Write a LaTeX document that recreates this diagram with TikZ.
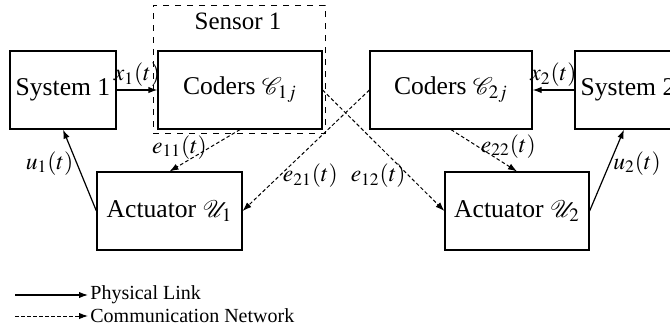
\documentclass[tikz,border=0pt]{standalone}
\usepackage{mathptmx}
\usepackage{mathrsfs}
\usepackage{fontspec}
\setmainfont{Liberation Serif}
\usetikzlibrary{arrows.meta}
\begin{document}
\begin{tikzpicture}[x=0.5pt,y=-0.5pt,
  blk/.style={draw, line width=0.6pt, rectangle, inner sep=0pt, font=\fontsize{12.8}{15}\selectfont},
  phys/.style={line width=0.6pt, -{Latex[length=4.5pt,width=3.2pt]}},
  comm/.style={line width=0.5pt, dash pattern=on 1.8pt off 1.2pt, -{Latex[length=4.5pt,width=3.2pt]}},
  lbl/.style={font=\fontsize{11.8}{14}\selectfont, inner sep=1.5pt},
  leg/.style={font=\fontsize{10}{12}\selectfont, anchor=west, inner sep=1pt}]
\useasboundingbox (0,0) rectangle (670,332);
\clip (0,0) rectangle (670,332);
% sensor dashed box
\node[draw, dashed, line width=0.5pt, minimum width=86pt, minimum height=64pt, inner sep=0pt] (sensor) at (239,69) {};
\node[font=\fontsize{12.5}{15}\selectfont] (sensorlbl) at (238,21) {Sensor 1};
% blocks
\node[blk, minimum width=53pt, minimum height=39pt] (sys1) at (63,90) {System 1};
\node[blk, minimum width=82pt, minimum height=39pt] (cod1) at (240,90) {Coders $\mathscr{C}_{1j}$};
\node[blk, minimum width=81pt, minimum height=39pt] (cod2) at (451,90) {Coders $\mathscr{C}_{2j}$};
\node[blk, minimum width=53pt, minimum height=39pt] (sys2) at (628,90) {System 2};
\node[blk, minimum width=72.5pt, minimum height=39pt] (act1) at (169.5,211) {Actuator $\mathscr{U}_{1}$};
\node[blk, minimum width=72pt, minimum height=39pt] (act2) at (517,211) {Actuator $\mathscr{U}_{2}$};
% physical links
\draw[phys] (sys1.east) -- node[lbl, above] {$x_1(t)$} (cod1.west);
\draw[phys] (sys2.west) -- node[lbl, above] {$x_2(t)$} (cod2.east);
\draw[phys] (act1.west) -- node[lbl, left, pos=0.585] {$u_1(t)$} (sys1.south);
\draw[phys] (act2.east) -- node[lbl, right, pos=0.585] {$u_2(t)$} ([xshift=-2pt]sys2.south);
% communication network
\draw[comm] (cod1.south) -- node[lbl, left, pos=0.42] {$e_{11}(t)$} (act1.north);
\draw[comm] (cod2.west) -- node[lbl, right, pos=0.71] {$e_{21}(t)$} (act1.east);
\draw[comm] (cod1.east) -- node[lbl, left, pos=0.71] {$e_{12}(t)$} (act2.west);
\draw[comm] (cod2.south) -- node[lbl, right, pos=0.4] {$e_{22}(t)$} (act2.north);
% legend
\coordinate (l1a) at (15,295);
\coordinate (l1b) at (88,295);
\coordinate (l2a) at (15,316);
\coordinate (l2b) at (88,316);
\draw[phys] (l1a) -- (l1b);
\draw[comm] (l2a) -- (l2b);
\node[leg] (leg1) at (l1b) {Physical Link};
\node[leg] (leg2) at (l2b) {Communication Network};
\end{tikzpicture}
\end{document}
